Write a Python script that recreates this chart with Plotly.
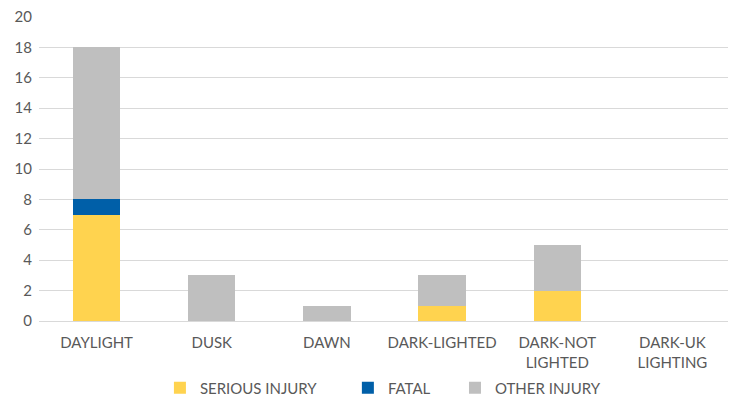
import plotly.graph_objects as go

categories = ["DAYLIGHT", "DUSK", "DAWN", "DARK-LIGHTED", "DARK-NOT<br>LIGHTED", "DARK-UK<br>LIGHTING"]
serious_injury = [7, 0, 0, 1, 2, 0]
fatal = [1, 0, 0, 0, 0, 0]
other_injury = [10, 3, 1, 2, 3, 0]

font_family = "Lato, 'Open Sans', sans-serif"
text_color = "#595959"

fig = go.Figure()
fig.add_trace(go.Bar(name="SERIOUS INJURY", x=categories, y=serious_injury, marker_color="#FFD34F",
                     marker_line_width=0, legend="legend"))
fig.add_trace(go.Bar(name="FATAL", x=categories, y=fatal, marker_color="#005FA8",
                     marker_line_width=0, legend="legend2"))
fig.add_trace(go.Bar(name="OTHER INJURY", x=categories, y=other_injury, marker_color="#BFBFBF",
                     marker_line_width=0, legend="legend3"))

leg_common = dict(orientation="h", xanchor="left", y=-0.2204, yanchor="middle",
                  font=dict(size=15, color=text_color), itemwidth=30, bgcolor="rgba(0,0,0,0)")

fig.update_layout(
    barmode="stack",
    bargap=0.59,
    width=728, height=395,
    margin=dict(l=31, r=6, t=9, b=82, autoexpand=False),
    plot_bgcolor="white", paper_bgcolor="white",
    font=dict(family=font_family, size=15, color=text_color),
    legend=dict(x=0.175, **leg_common),
    legend2=dict(x=0.447, **leg_common),
    legend3=dict(x=0.602, **leg_common),
    showlegend=True,
)
fig.update_yaxes(range=[0, 20], dtick=2, showgrid=True, gridcolor="#D9D9D9", gridwidth=1,
                 zeroline=False, showline=False, ticks="", automargin=False,
                 ticklabeloverflow="allow",
                 ticklabelstandoff=6, tickfont=dict(size=15, color=text_color))
fig.update_xaxes(showline=True, linecolor="#D9D9D9", linewidth=1, ticks="", automargin=False,
                 ticklabelstandoff=8, tickfont=dict(size=15, color=text_color))

fig.write_html("out.html")
